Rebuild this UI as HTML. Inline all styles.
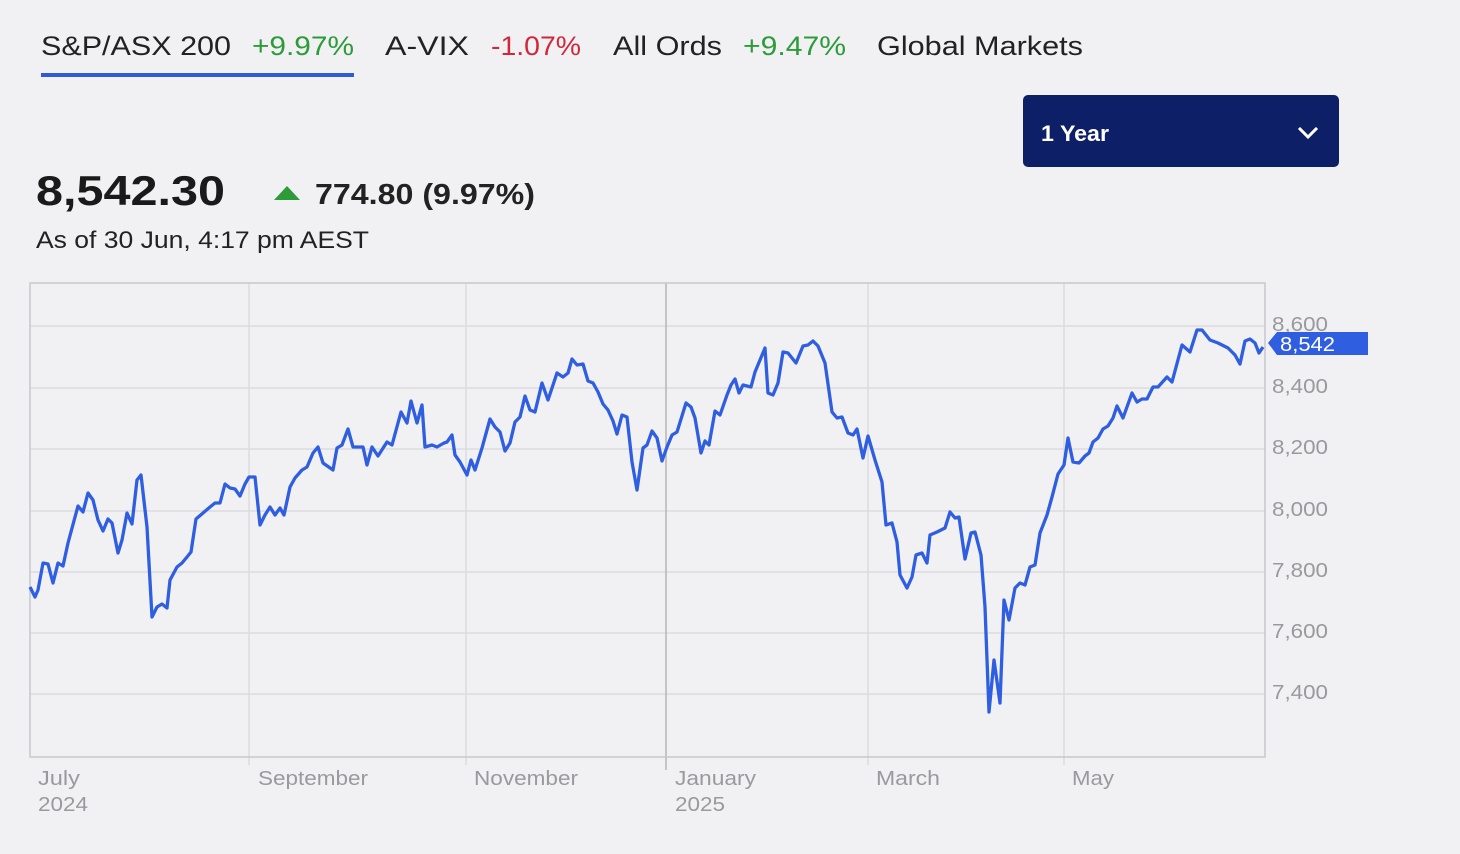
<!DOCTYPE html>
<html><head><meta charset="utf-8"><style>
html,body{margin:0;padding:0;background:#f1f1f4;width:1460px;height:854px;overflow:hidden;font-family:"Liberation Sans",sans-serif;}
</style></head><body>
<svg width="1460" height="854" viewBox="0 0 1460 854" xmlns="http://www.w3.org/2000/svg" style="position:absolute;left:0;top:0">
<rect x="0" y="0" width="1460" height="854" fill="#f1f1f4"/>
<g font-family="Liberation Sans, sans-serif" font-size="27" lengthAdjust="spacingAndGlyphs">
<text x="41" y="55" fill="#222" textLength="190" lengthAdjust="spacingAndGlyphs">S&amp;P/ASX 200</text>
<text x="252" y="55" fill="#2e9b3a" textLength="102" lengthAdjust="spacingAndGlyphs">+9.97%</text>
<text x="385" y="55" fill="#222" textLength="84" lengthAdjust="spacingAndGlyphs">A-VIX</text>
<text x="491" y="55" fill="#d0283a" textLength="90" lengthAdjust="spacingAndGlyphs">-1.07%</text>
<text x="613" y="55" fill="#222" textLength="109" lengthAdjust="spacingAndGlyphs">All Ords</text>
<text x="743" y="55" fill="#2e9b3a" textLength="103" lengthAdjust="spacingAndGlyphs">+9.47%</text>
<text x="877" y="55" fill="#222" textLength="206" lengthAdjust="spacingAndGlyphs">Global Markets</text>
</g>
<rect x="41" y="73" width="313" height="4" fill="#2f5bd6"/>
<rect x="1023" y="95" width="316" height="72" rx="5" fill="#0d1f66"/>
<text x="1041" y="141" fill="#fff" font-size="22" font-weight="bold" textLength="68" lengthAdjust="spacingAndGlyphs">1 Year</text>
<polyline points="1299,128 1308,137 1317,128" fill="none" stroke="#fff" stroke-width="3"/>
<text x="36" y="205" fill="#1a1a1a" font-size="42" font-weight="bold" textLength="189" lengthAdjust="spacingAndGlyphs">8,542.30</text>
<polygon points="274,200 287,186 300,200" fill="#2e9b3a"/>
<text x="315" y="204" fill="#222" font-size="29" font-weight="bold" textLength="220" lengthAdjust="spacingAndGlyphs">774.80 (9.97%)</text>
<text x="36" y="248" fill="#222" font-size="24" textLength="333" lengthAdjust="spacingAndGlyphs">As of 30 Jun, 4:17 pm AEST</text>
<g stroke="#dcdcdf" stroke-width="1.5">
<line x1="30" y1="326" x2="1265" y2="326"/><line x1="30" y1="388" x2="1265" y2="388"/>
<line x1="30" y1="449" x2="1265" y2="449"/><line x1="30" y1="511" x2="1265" y2="511"/>
<line x1="30" y1="572" x2="1265" y2="572"/><line x1="30" y1="633" x2="1265" y2="633"/>
<line x1="30" y1="694" x2="1265" y2="694"/>
<line x1="249" y1="283" x2="249" y2="765"/><line x1="466" y1="283" x2="466" y2="765"/>
<line x1="868" y1="283" x2="868" y2="765"/><line x1="1064" y1="283" x2="1064" y2="765"/>
</g>
<line x1="666" y1="283" x2="666" y2="770" stroke="#b5b5b8" stroke-width="1.5"/>
<rect x="30" y="283" width="1235" height="474" fill="none" stroke="#c8c8cc" stroke-width="1.5"/>
<g fill="#9a9a9e" font-size="20">
<text x="1272" y="331" textLength="56" lengthAdjust="spacingAndGlyphs">8,600</text>
<text x="1272" y="393" textLength="56" lengthAdjust="spacingAndGlyphs">8,400</text>
<text x="1272" y="454" textLength="56" lengthAdjust="spacingAndGlyphs">8,200</text>
<text x="1272" y="516" textLength="56" lengthAdjust="spacingAndGlyphs">8,000</text>
<text x="1272" y="577" textLength="56" lengthAdjust="spacingAndGlyphs">7,800</text>
<text x="1272" y="638" textLength="56" lengthAdjust="spacingAndGlyphs">7,600</text>
<text x="1272" y="699" textLength="56" lengthAdjust="spacingAndGlyphs">7,400</text>
<text x="38" y="785" textLength="42" lengthAdjust="spacingAndGlyphs">July</text>
<text x="38" y="811" textLength="50" lengthAdjust="spacingAndGlyphs">2024</text>
<text x="258" y="785" textLength="110" lengthAdjust="spacingAndGlyphs">September</text>
<text x="474" y="785" textLength="104" lengthAdjust="spacingAndGlyphs">November</text>
<text x="675" y="785" textLength="81" lengthAdjust="spacingAndGlyphs">January</text>
<text x="675" y="811" textLength="50" lengthAdjust="spacingAndGlyphs">2025</text>
<text x="876" y="785" textLength="64" lengthAdjust="spacingAndGlyphs">March</text>
<text x="1072" y="785" textLength="42" lengthAdjust="spacingAndGlyphs">May</text>
</g>
<polyline fill="none" stroke="#2f5fe0" stroke-width="3.3" stroke-linejoin="round" points="30,587 35,597 38,590 43,563 48,564 53,583 58,563 63,566 68,543 78,506 83,512 88,493 93,500 98,520 103,531 108,519 112,523 118,553 122,540 127,513 132,524 137,480 141,475 147,527 152,617 157,607 162,604 167,608 170,580 177,567 182,563 187,557 191,552 196,519 203,513 210,507 215,503 220,503 225,484 230,488 235,489 240,496 245,484 249,477 255,477 260,525 265,515 270,507 275,515 280,508 284,515 290,487 295,478 302,470 307,467 313,453 318,447 323,463 333,470 337,448 342,445 348,429 353,447 363,447 367,465 372,447 378,456 387,442 392,445 401,412 407,423 411,401 417,423 422,405 425,447 432,445 437,447 444,443 447,442 452,435 455,455 460,462 467,475 471,460 475,470 482,448 490,419 495,427 500,432 505,451 510,443 515,422 520,417 525,396 530,410 535,412 542,383 548,400 557,373 563,377 568,373 572,359 577,365 583,364 588,381 593,383 598,392 603,404 608,410 613,421 617,434 622,415 627,417 632,462 637,490 643,448 647,445 652,431 657,438 662,461 667,447 672,435 677,432 686,403 691,407 695,418 701,453 705,441 709,445 715,411 720,415 727,395 731,385 735,379 739,393 743,385 751,387 755,372 765,348 768,393 773,395 778,383 783,352 788,353 796,363 803,346 808,345 813,341 818,346 825,363 832,412 837,418 842,417 848,433 853,435 857,429 863,458 868,436 875,460 882,482 886,525 892,523 897,542 900,575 907,588 912,577 916,555 922,553 927,563 930,535 937,532 945,528 950,512 955,518 959,517 965,559 971,533 975,532 981,555 985,607 989,712 994,660 1000,703 1004,600 1009,620 1015,588 1020,583 1025,585 1030,567 1035,565 1040,533 1047,515 1052,497 1058,474 1064,465 1068,438 1073,462 1079,463 1085,456 1089,453 1093,442 1098,438 1103,429 1108,426 1113,418 1117,406 1123,418 1132,393 1137,402 1142,399 1147,399 1153,387 1158,387 1167,377 1172,382 1182,345 1190,352 1197,330 1202,330 1210,340 1218,343 1228,348 1235,355 1240,364 1245,341 1250,339 1255,343 1259,353 1263,347"/>
<polygon points="1268,343 1277,332 1368,332 1368,355 1277,355" fill="#2f5fe0"/>
<text x="1280" y="351" fill="#fff" font-size="20" textLength="55" lengthAdjust="spacingAndGlyphs">8,542</text>
</svg>
</body></html>
